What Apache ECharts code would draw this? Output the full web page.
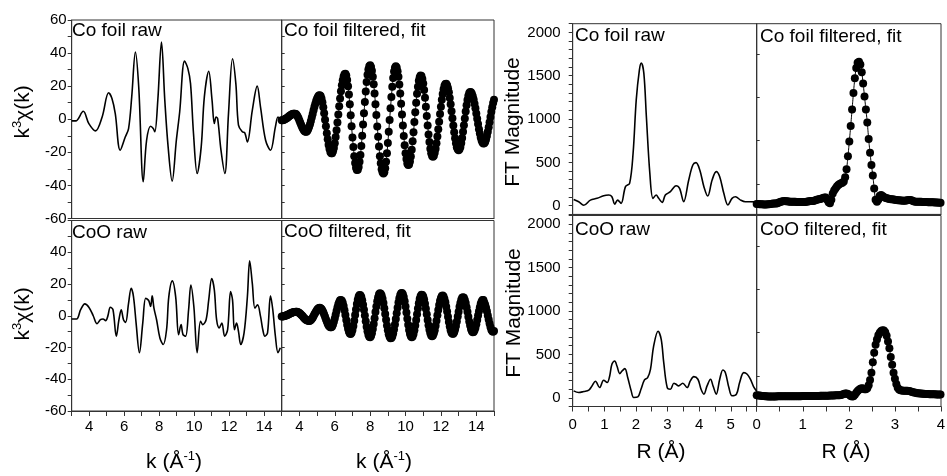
<!DOCTYPE html>
<html>
<head>
<meta charset="utf-8">
<script src="https://cdn.jsdelivr.net/npm/echarts@6.0.0/dist/echarts.min.js"></script>
<style>
  html, body { margin: 0; padding: 0; background: #fff; }
  #main { width: 947px; height: 476px; }
</style>
</head>
<body>
<div id="main"></div>
<script>
// ---- data ----
// raw k3*chi(k), pairs of [k, value]
var coFoilRawK = [[3.00,-1],[3.23,-1],[3.66,4.8],[3.98,-2.6],[4.36,-7],[4.74,1.4],[5.11,16],[5.30,12.5],[5.49,3.4],[5.77,-18.7],[6.06,-10.7],[6.25,-5.6],[6.43,13.5],[6.64,40.6],[6.83,19.5],[7.09,-37.8],[7.28,-12.7],[7.51,-4.2],[7.66,-5.6],[7.75,-7.6],[7.92,11.5],[8.13,46.6],[8.32,11.5],[8.51,-16.7],[8.74,-37.4],[8.98,-12.7],[9.17,4.4],[9.45,35.2],[9.64,30.6],[9.79,21.5],[9.96,-8.6],[10.17,-32.8],[10.40,-16.7],[10.58,13.5],[10.83,29],[11.02,11.5],[11.15,-2.6],[11.25,1.4],[11.34,0.4],[11.53,-18.7],[11.75,-32.8],[11.96,3.4],[12.19,36.6],[12.38,21.5],[12.53,-3.6],[12.75,-7.6],[12.89,-8.2],[13.04,-13.7],[13.32,5.4],[13.60,20],[13.79,7.4],[14.08,-12.7],[14.36,-18.7],[14.64,-4.6],[14.79,1.4],[14.92,0]];
var cooRawK = [[3.00,-2],[3.28,-2],[3.51,3.8],[3.75,7.5],[3.98,5.4],[4.23,0],[4.45,-5],[4.64,-2.5],[4.79,-2],[4.94,-3.1],[5.06,-0.4],[5.21,5.4],[5.36,3.8],[5.55,-12.9],[5.70,-2.5],[5.83,3.8],[5.96,-2.5],[6.08,-4.2],[6.25,7.9],[6.40,17.3],[6.53,12.1],[6.68,-4.6],[6.87,-23.3],[7.06,-4.6],[7.23,11],[7.40,9.6],[7.51,5.8],[7.60,12.5],[7.70,4.8],[7.85,-2.5],[8.04,-14],[8.23,-18.1],[8.42,-8.8],[8.55,12.1],[8.75,22],[8.94,12.1],[9.11,-11.9],[9.25,-5.6],[9.36,-11.9],[9.51,-12.9],[9.68,3.8],[9.81,19.4],[9.98,5.8],[10.17,-23.3],[10.36,-3.5],[10.49,-5.6],[10.68,-2.5],[10.83,10],[11.00,23.5],[11.15,16.3],[11.28,-2.5],[11.43,-7.7],[11.58,-4.6],[11.74,-12.9],[11.91,-8.8],[12.08,15.2],[12.19,10],[12.30,-8.8],[12.42,-4.6],[12.53,-9.8],[12.66,-18.1],[12.85,-10.8],[13.04,12.1],[13.17,34.6],[13.32,20.4],[13.47,4.8],[13.62,6.9],[13.79,-0.4],[13.92,-8.8],[14.04,-12.9],[14.19,-10.8],[14.36,12.5],[14.49,3.8],[14.64,-12.9],[14.79,-23.3],[14.92,-20.2]];

// filtered k3*chi(k), one value every 0.05 from k = 3 to 15
var kStart = 3, kStep = 0.05;
var coFoilFiltK = [-0.6,-0.6,-0.4,-0.2,0.1,0.4,0.8,1.2,1.7,2.1,2.4,2.8,3.0,3.3,3.4,
  3.4,3.1,2.6,1.7,0.6,-0.7,-2.1,-3.5,-4.7,-5.8,-6.7,-7.3,-7.6,
  -7.5,-6.9,-5.9,-4.6,-3.0,-1.1,1.0,3.1,5.4,7.5,9.4,11.2,12.5,13.6,14.3,14.5,
  14.0,12.6,10.3,7.3,3.6,-0.3,-4.3,-8.5,-12.1,-15.4,-17.9,-19.8,-20.6,
  -20.5,-19.4,-17.4,-14.5,-10.8,-6.7,-1.9,2.9,7.8,12.5,16.9,20.5,23.6,25.8,27.2,
  27.5,26.4,23.8,19.9,15.0,9.1,2.4,-4.3,-11.0,-16.8,-22.3,-26.4,-29.3,-30.7,
  -30.5,-28.9,-25.7,-21.6,-16.2,-9.9,-3.2,3.7,10.4,16.8,22.5,26.9,30.1,32.1,
  32.6,31.6,29.3,25.7,21.2,15.6,9.1,2.5,-4.4,-10.6,-16.5,-22.3,-26.6,-30.2,-32.1,-32.8,
  -32.0,-29.6,-25.7,-20.5,-14.3,-7.5,-0.4,6.7,13.5,19.7,24.9,28.8,31.2,32.0,
  31.3,29.0,25.7,21.0,15.6,9.3,2.8,-3.8,-10.1,-15.7,-20.5,-24.1,-26.7,-27.7,
  -27.3,-25.5,-22.5,-18.5,-13.3,-7.9,-1.7,4.3,10.0,15.4,19.7,23.2,25.4,26.4,
  26.1,24.4,21.6,17.7,13.0,7.6,1.9,-3.8,-9.2,-13.8,-17.8,-20.6,-22.2,
  -22.7,-22.0,-20.3,-17.8,-14.5,-10.5,-6.1,-1.5,3.2,7.6,11.8,15.3,18.2,20.2,21.3,
  21.4,20.6,18.8,16.3,12.9,9.0,4.8,0.6,-3.8,-7.8,-11.5,-14.5,-16.9,-18.2,-18.7,
  -18.2,-16.8,-14.4,-11.3,-7.6,-3.6,0.5,4.7,8.4,11.6,14.2,15.8,16.5,
  16.3,15.4,13.9,11.9,9.3,6.7,3.5,0.3,-2.9,-6.0,-8.6,-11.0,-12.8,-14.1,-14.6,
  -14.5,-13.8,-12.3,-10.2,-7.6,-4.8,-1.8,1.4,4.5,7.3,9.8,11.8];
var cooFiltK = [-0.4,-0.4,-0.3,-0.2,0.0,0.2,0.4,0.7,1.0,1.2,1.5,1.7,2.0,2.2,2.3,2.4,2.5,
  2.5,2.4,2.1,1.7,1.3,0.7,0.1,-0.5,-1.2,-1.7,-2.3,-2.7,-3.0,-3.2,-3.3,
  -3.2,-2.7,-2.1,-1.2,-0.2,0.9,1.9,2.9,3.8,4.4,4.9,5.0,
  4.8,4.2,3.3,2.2,0.8,-0.7,-2.2,-3.7,-5.0,-6.1,-6.8,-7.2,
  -7.2,-6.7,-5.5,-3.8,-1.7,0.7,3.0,5.2,7.2,8.7,9.7,10.0,
  9.5,8.2,6.1,3.4,0.5,-2.6,-5.6,-8.2,-10.1,-11.2,
  -11.5,-10.7,-9.0,-6.4,-3.1,0.4,4.0,7.4,10.1,12.1,13.0,
  12.9,11.8,9.8,7.0,3.8,0.2,-3.5,-6.9,-9.7,-11.9,-13.2,
  -13.5,-12.8,-11.0,-8.4,-5.2,-1.6,2.3,5.9,9.1,11.7,13.5,14.2,
  13.9,12.7,10.7,8.0,4.7,1.1,-2.5,-6.1,-9.1,-11.6,-13.3,-14.1,
  -14.0,-13.1,-11.2,-8.6,-5.5,-2.0,1.5,5.1,8.3,11.0,13.0,14.1,
  14.4,13.6,11.8,9.1,5.8,2.0,-1.9,-5.6,-8.9,-11.3,-12.9,-13.5,
  -13.0,-11.5,-9.2,-6.1,-2.6,1.0,4.6,7.8,10.5,12.3,13.2,
  13.1,12.1,10.2,7.5,4.4,0.9,-2.6,-6.0,-8.8,-11.1,-12.4,-12.9,
  -12.5,-11.1,-9.1,-6.3,-3.1,0.3,3.6,6.8,9.4,11.2,12.4,
  12.7,12.1,10.6,8.5,5.7,2.6,-0.7,-3.9,-6.7,-9.1,-10.7,-11.4,
  -11.4,-10.4,-8.7,-6.4,-3.6,-0.5,2.5,5.6,8.1,10.1,11.3,11.7,
  11.3,10.0,8.0,5.4,2.5,-0.6,-3.6,-6.2,-8.4,-9.8,-10.4,
  -10.2,-9.2,-7.5,-5.3,-2.7,0.1,2.9,5.3,7.5,9.0,9.9,
  9.9,8.3,7.0,5.1,2.8,0.2,-2.4,-4.9,-7.1,-8.8,-9.8,-10.0,-9.6];

// raw FT magnitude, pairs of [R, value]
var coFoilRawR = [[0.03,73],[0.19,46],[0.35,5],[0.56,65],[0.77,85],[0.98,116],[1.14,123],[1.24,104],[1.33,19],[1.42,65],[1.53,27],[1.67,220],[1.80,258],[1.91,605],[2.01,1221],[2.11,1568],[2.17,1645],[2.25,1530],[2.33,1029],[2.44,374],[2.54,85],[2.64,123],[2.72,85],[2.83,39],[2.93,123],[3.09,162],[3.27,231],[3.38,200],[3.51,46],[3.67,297],[3.80,470],[3.90,497],[4.02,412],[4.15,220],[4.27,112],[4.41,297],[4.54,393],[4.65,335],[4.78,143],[4.91,8],[5.04,85],[5.15,104],[5.31,65],[5.46,46],[5.62,46],[5.82,45]];
var cooRawR = [[0.03,80],[0.19,61],[0.35,73],[0.51,88],[0.61,137],[0.72,191],[0.85,118],[0.98,202],[1.09,176],[1.17,252],[1.24,386],[1.33,424],[1.40,366],[1.49,279],[1.56,309],[1.65,336],[1.74,233],[1.85,80],[1.93,4],[2.06,11],[2.16,99],[2.27,206],[2.37,233],[2.46,328],[2.56,595],[2.70,767],[2.80,672],[2.88,405],[2.99,118],[3.09,99],[3.20,168],[3.27,156],[3.35,137],[3.48,168],[3.62,118],[3.72,195],[3.83,244],[3.96,214],[4.06,99],[4.15,42],[4.25,137],[4.36,214],[4.44,137],[4.54,42],[4.65,214],[4.75,321],[4.83,290],[4.94,118],[5.04,23],[5.18,42],[5.28,176],[5.41,290],[5.52,271],[5.62,215],[5.72,130],[5.82,75]];

// filtered FT magnitude, one value every 0.03 from R = 0
var rStart = 0, rStep = 0.03;
var coFoilFiltR = [20,19,18,17,16,15,15,15,16,18,
  20,23,25,26,27,30,36,42,48,53,
  54,53,51,49,47,46,46,46,45,44,
  43,42,42,42,42,44,47,50,53,54,
  54,56,60,66,72,76,78,84,90,95,
  94,70,40,30,70,140,175,200,222,238,
  250,258,264,280,330,420,570,740,920,1110,
  1300,1470,1590,1650,1660,1630,1540,1410,1260,1110,
  960,770,610,470,350,200,70,45,70,115,
  125,112,100,92,86,82,78,76,74,72,
  70,66,64,62,60,59,58,58,60,64,
  66,65,62,56,50,47,46,46,46,45,
  44,43,42,42,41,40,40,39,39,38,
  37,36,35,35];
var cooFiltR = [30,28,26,24,22,20,18,17,16,15,
  15,15,15,16,16,17,17,18,18,18,
  18,18,18,18,19,19,19,19,19,19,
  19,19,19,20,20,20,20,20,20,21,
  21,21,21,22,22,22,23,23,23,24,
  24,24,25,26,27,28,28,29,30,31,
  31,33,38,45,50,50,45,35,22,15,
  18,35,58,78,92,105,111,108,100,99,
  110,145,205,290,410,520,610,672,720,750,
  770,779,775,755,715,650,570,470,380,290,
  220,160,115,95,88,84,82,81,80,80,
  79,75,70,64,60,57,54,52,50,49,
  47,46,45,44,43,42,42,41,40,40,
  39,39,38,38];

var FONT = '"Liberation Sans", Arial, sans-serif';
var AXIS_COLOR = '#333';

var toPairs = function (vals, start, step) {
    return vals.map(function (v, i) {
        return [Math.round((start + i * step) * 1000) / 1000, v];
    });
};

// grid boxes: [left, top, width, height]
var grids = [
    [71.7, 20, 210, 198.5],     // 0 Co foil raw (k)
    [281.7, 20, 212.3, 198.5],  // 1 Co foil filtered (k)
    [71.7, 220.5, 210, 190.5],  // 2 CoO raw (k)
    [281.7, 220.5, 212.3, 190.5], // 3 CoO filtered (k)
    [572.7, 23.7, 184, 190.7],  // 4 Co foil raw (R)
    [756.7, 23.7, 184.3, 190.7], // 5 Co foil filtered (R)
    [572.7, 215.5, 184, 191],   // 6 CoO raw (R)
    [756.7, 215.5, 184.3, 191]  // 7 CoO filtered (R)
];

var isInt = function (v) { return Math.abs(v - Math.round(v)) < 1e-6; };

var xAxisFor = function (gi, min, max, interval, showLabels, labelFn, margin) {
    return {
        gridIndex: gi, type: 'value', min: min, max: max, interval: interval,
        axisLine: { show: true, onZero: false, lineStyle: { color: AXIS_COLOR, width: 1 } },
        axisTick: { show: showLabels, inside: false, length: 5, lineStyle: { color: AXIS_COLOR } },
        axisLabel: {
            show: showLabels, margin: margin, fontSize: 15, color: '#000', fontFamily: FONT,
            formatter: function (v) { return labelFn(v) ? String(Math.round(v)) : ''; }
        },
        splitLine: { show: false }
    };
};

var yAxisFor = function (gi, min, max, interval, leftSide, labelFn, margin, insideTicks) {
    var ax = {
        gridIndex: gi, type: 'value', min: min, max: max, interval: interval,
        axisLine: { show: true, onZero: false, lineStyle: { color: AXIS_COLOR, width: 1 } },
        splitLine: { show: false }
    };
    if (leftSide) {
        ax.axisTick = { show: true, inside: false, length: 4, lineStyle: { color: AXIS_COLOR } };
        ax.axisLabel = {
            show: true, margin: margin, fontSize: 15, color: '#000', fontFamily: FONT,
            formatter: function (v) { return labelFn(v) ? String(v) : ''; }
        };
    } else {
        ax.axisTick = { show: true, inside: true, length: 3, customValues: insideTicks, lineStyle: { color: AXIS_COLOR } };
        ax.axisLabel = { show: false };
    }
    return ax;
};

var kLabel = function (v) { return isInt(v) && Math.round(v) % 2 === 0 && v >= 4 && v <= 14; };
var rLabel = function (v) { return isInt(v); };
var kyTop = function (v) { return v % 20 === 0; };
var kyBottom = function (v) { return v % 20 === 0 && v <= 40; };
var ry = function (v) { return v % 500 === 0 && v >= 0 && v <= 2000; };
var kInside = [-50, -40, -30, -20, -10, 0, 10, 20, 30, 40, 50];
var rInside = [250, 750, 1250, 1750];

var xAxes = [
    xAxisFor(0, 3, 15, 1, false, kLabel, 8),
    xAxisFor(1, 3, 15, 1, false, kLabel, 8),
    xAxisFor(2, 3, 15, 1, true, kLabel, 8),
    xAxisFor(3, 3, 15, 1, true, kLabel, 8),
    xAxisFor(4, 0, 5.82, 0.5, false, rLabel, 11),
    xAxisFor(5, 0, 4, 0.5, false, rLabel, 11),
    xAxisFor(6, 0, 5.82, 0.5, true, rLabel, 11),
    xAxisFor(7, 0, 4, 0.5, true, rLabel, 11)
];
var yAxes = [
    yAxisFor(0, -60, 60, 10, true, kyTop, 5),
    yAxisFor(1, -60, 60, 10, false, null, 0, kInside),
    yAxisFor(2, -60, 60, 10, true, kyBottom, 5),
    yAxisFor(3, -60, 60, 10, false, null, 0, kInside),
    yAxisFor(4, -100, 2100, 100, true, ry, 12),
    yAxisFor(5, -100, 2100, 100, false, null, 0, rInside),
    yAxisFor(6, -100, 2100, 100, true, ry, 12),
    yAxisFor(7, -100, 2100, 100, false, null, 0, rInside)
];

var rawLine = function (idx, data) {
    return {
        type: 'line', xAxisIndex: idx, yAxisIndex: idx, data: data,
        smooth: 0.35, showSymbol: false, silent: true,
        lineStyle: { color: '#000', width: 1.6 }
    };
};
var dots = function (idx, data) {
    return {
        type: 'scatter', xAxisIndex: idx, yAxisIndex: idx, data: data,
        symbol: 'circle', symbolSize: 8, silent: true,
        itemStyle: { color: '#000', opacity: 1, borderWidth: 0 }
    };
};
var fitLine = function (idx, data) {
    return {
        type: 'line', xAxisIndex: idx, yAxisIndex: idx, data: data,
        smooth: true, showSymbol: false, silent: true, z: 3,
        lineStyle: { color: '#000', width: 1 }
    };
};

var coFoilFiltKPts = toPairs(coFoilFiltK, kStart, kStep);
var cooFiltKPts = toPairs(cooFiltK, kStart, kStep);
var coFoilFiltRPts = toPairs(coFoilFiltR, rStart, rStep);
var cooFiltRPts = toPairs(cooFiltR, rStart, rStep);

var panelText = function (txt, x, y) {
    return { type: 'text', x: x, y: y, silent: true,
        style: { text: txt, font: '19px ' + FONT, fill: '#000', align: 'left', verticalAlign: 'top' } };
};
var nameRich = {
    n: { fontSize: 21, fontFamily: FONT, color: '#000', lineHeight: 25 },
    s: { fontSize: 13, fontFamily: FONT, color: '#000', lineHeight: 25, verticalAlign: 'top' }
};
var axisName = function (txt, x, y, rotate) {
    return { type: 'text', x: x, y: y, rotation: rotate ? Math.PI / 2 : 0, silent: true,
        style: { text: txt, rich: nameRich, fill: '#000', align: 'center', verticalAlign: 'middle' } };
};

var option = {
    animation: false,
    backgroundColor: '#fff',
    grid: grids.map(function (g) {
        return { left: g[0], top: g[1], width: g[2], height: g[3], show: true,
            borderColor: AXIS_COLOR, borderWidth: 1, containLabel: false, outerBoundsMode: 'none' };
    }),
    xAxis: xAxes,
    yAxis: yAxes,
    series: [
        rawLine(0, coFoilRawK),
        dots(1, coFoilFiltKPts), fitLine(1, coFoilFiltKPts),
        rawLine(2, cooRawK),
        dots(3, cooFiltKPts), fitLine(3, cooFiltKPts),
        rawLine(4, coFoilRawR),
        dots(5, coFoilFiltRPts), fitLine(5, coFoilFiltRPts),
        rawLine(6, cooRawR),
        dots(7, cooFiltRPts), fitLine(7, cooFiltRPts)
    ],
    graphic: [
        panelText('Co foil raw', 72, 21),
        panelText('Co foil filtered, fit', 284, 21),
        panelText('CoO raw', 72, 223),
        panelText('CoO filtered, fit', 284, 222),
        panelText('Co foil raw', 575, 26),
        panelText('Co foil filtered, fit', 760, 27),
        panelText('CoO raw', 575, 220),
        panelText('CoO filtered, fit', 760, 220),
        axisName('{n|k}{s|3}{n|χ(k)}', 23, 112, true),
        axisName('{n|k}{s|3}{n|χ(k)}', 23, 314, true),
        axisName('{n|FT Magnitude}', 513, 122, true),
        axisName('{n|FT Magnitude}', 514, 313, true),
        axisName('{n|k (Å}{s|-1}{n|)}', 174, 462, false),
        axisName('{n|k (Å}{s|-1}{n|)}', 384, 462, false),
        axisName('{n|R (Å)}', 661, 452, false),
        axisName('{n|R (Å)}', 846, 452, false)
    ]
};

var chart = echarts.init(document.getElementById('main'), null, { renderer: 'canvas' });
chart.setOption(option);
</script>
</body>
</html>
